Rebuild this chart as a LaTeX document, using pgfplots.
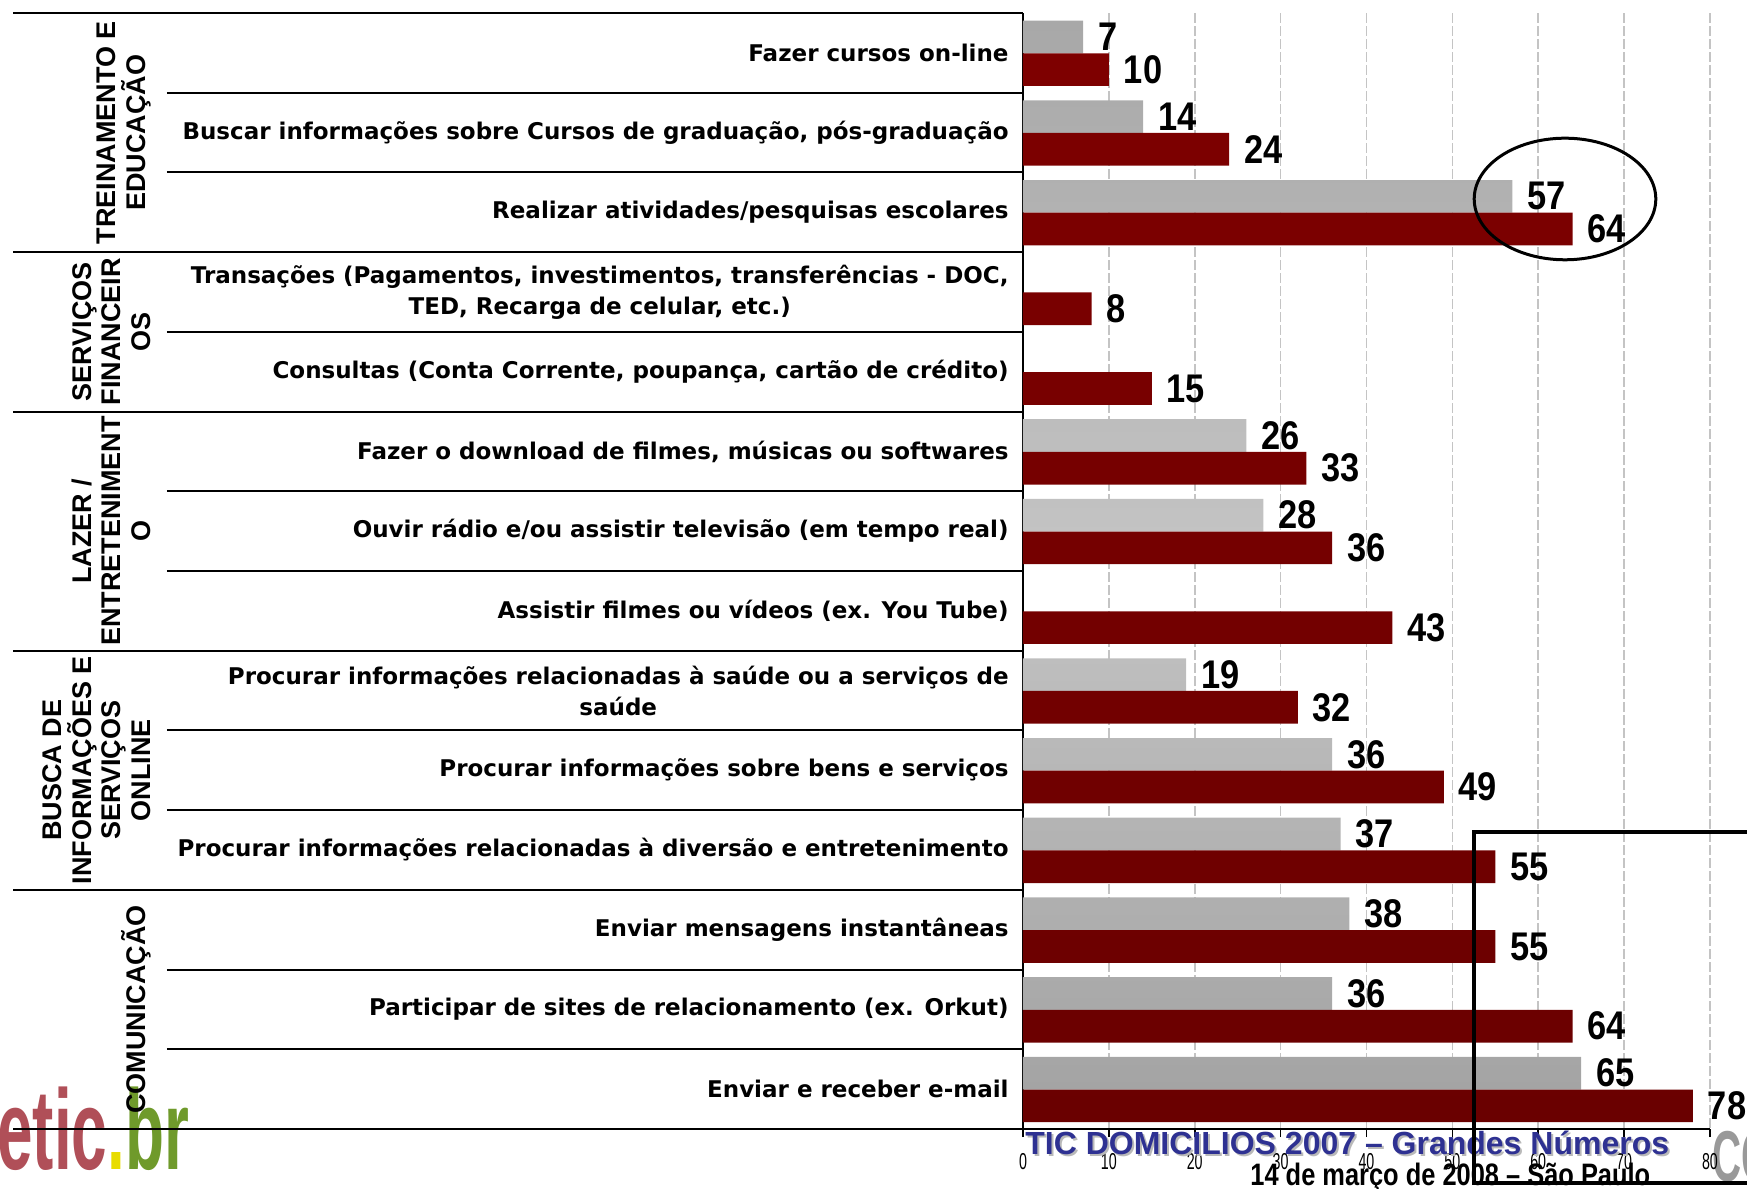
\documentclass[border=0pt]{standalone}
\usepackage{pgfplots}
\pgfplotsset{compat=1.18}
\usepackage{fontspec}
\setmainfont{Liberation Sans}
\newfontfamily\catfont{DejaVu Sans}
\newfontfamily\narrowfont[FakeStretch=0.82]{Liberation Sans}
\newfontfamily\numfont[FakeStretch=0.86]{Liberation Sans}
\newfontfamily\tickfont[FakeStretch=0.62]{Liberation Sans}
\newfontfamily\logofont[FakeStretch=0.56]{Liberation Sans}
\definecolor{redtop}{HTML}{7E0000}
\definecolor{redbot}{HTML}{6A0000}
\definecolor{graytop}{HTML}{A8A8A8}
\definecolor{graymid}{HTML}{C4C4C4}
\definecolor{graybot}{HTML}{A4A4A4}
\definecolor{gridgray}{HTML}{C4C4C4}
\definecolor{ticblue}{HTML}{2E3192}
\definecolor{eticred}{HTML}{B04F58}
\definecolor{eticgreen}{HTML}{6F9A2B}
\definecolor{eticyellow}{HTML}{E8DC00}
\begin{document}
\begin{tikzpicture}
\useasboundingbox (0,0) rectangle (873.5pt,594.5pt);
% logo
\node[anchor=base west, inner sep=0pt, font=\logofont\bfseries\fontsize{57}{57}\selectfont] at (-1.5pt,9.5pt)
  {\textcolor{eticred}{etic}\textcolor{eticyellow}{.}\textcolor{eticgreen}{br}};
\node[anchor=base west, inner sep=0pt, font=\logofont\bfseries\fontsize{36}{36}\selectfont, text=gray!80] at (856pt,3.5pt) {CGI};
\begin{axis}[
  at={(511.5pt,30pt)}, anchor=south west,
  scale only axis, width=343.5pt, height=558pt,
  xmin=0, xmax=80, ymin=0, ymax=14, y dir=reverse,
  xbar, bar width=0.41,
  clip=false,
  axis x line=bottom, axis y line=left,
  axis line style={-, line width=1pt, black},
  ytick=\empty,
  xtick={0,10,...,80},
  tick align=outside,
  major tick length=4pt,
  tick style={black, line width=0.8pt},
  xmajorgrids,
  grid style={gridgray, line width=0.8pt, dash pattern=on 5pt off 1.5pt},
  /pgf/number format/assume math mode=true,
  xticklabel style={font=\tickfont\fontsize{11.5}{11.5}\selectfont, yshift=-4.5pt},
  nodes near coords,
  every node near coord/.append style={font=\numfont\bfseries\fontsize{20}{20}\selectfont, anchor=west, xshift=4pt, text=black},
]
\addplot[draw=none, top color=graytop, bottom color=graybot, middle color=graymid, bar shift=-0.2]
  coordinates {(7,0.5) (14,1.5) (57,2.5) (26,5.5) (28,6.5) (19,8.5) (36,9.5) (37,10.5) (38,11.5) (36,12.5) (65,13.5)};
\addplot[draw=none, top color=redtop, bottom color=redbot, bar shift=0.21]
  coordinates {(10,0.5) (24,1.5) (64,2.5) (8,3.5) (15,4.5) (33,5.5) (36,6.5) (43,7.5) (32,8.5) (49,9.5) (55,10.5) (55,11.5) (64,12.5) (78,13.5)};
% separators
\pgfplotsinvokeforeach{0,3,5,8,11,14}{\draw[line width=1pt] (axis cs:-117.6,#1) -- (axis cs:0,#1);}
\pgfplotsinvokeforeach{1,2,4,6,7,9,10,12,13}{\draw[line width=1pt] (axis cs:-99.7,#1) -- (axis cs:0,#1);}
% category labels
\tikzset{cat/.style={anchor=east, align=center, inner sep=0pt, font=\catfont\bfseries\fontsize{11.5}{15.5}\selectfont}}
\node[cat] at (axis cs:-1.63,0.5) {Fazer cursos on-line};
\node[cat] at (axis cs:-1.63,1.5) {Buscar informações sobre Cursos de graduação, pós-graduação};
\node[cat] at (axis cs:-1.63,2.5) {Realizar atividades/pesquisas escolares};
\node[cat] at (axis cs:-1.63,3.5) {Transações (Pagamentos, investimentos, transferências - DOC,\\TED, Recarga de celular, etc.)};
\node[cat] at (axis cs:-1.63,4.5) {Consultas (Conta Corrente, poupança, cartão de crédito)};
\node[cat] at (axis cs:-1.63,5.5) {Fazer o download de filmes, músicas ou softwares};
\node[cat] at (axis cs:-1.63,6.5) {Ouvir rádio e/ou assistir televisão (em tempo real)};
\node[cat] at (axis cs:-1.63,7.5) {Assistir filmes ou vídeos (ex. You Tube)};
\node[cat] at (axis cs:-1.63,8.5) {Procurar informações relacionadas à saúde ou a serviços de\\saúde};
\node[cat] at (axis cs:-1.63,9.5) {Procurar informações sobre bens e serviços};
\node[cat] at (axis cs:-1.63,10.5) {Procurar informações relacionadas à diversão e entretenimento};
\node[cat] at (axis cs:-1.63,11.5) {Enviar mensagens instantâneas};
\node[cat] at (axis cs:-1.63,12.5) {Participar de sites de relacionamento (ex. Orkut)};
\node[cat] at (axis cs:-1.63,13.5) {Enviar e receber e-mail};
% group labels
\tikzset{grp/.style={rotate=90, anchor=south, align=center, inner sep=0pt, font=\bfseries\fontsize{13.5}{14.9}\selectfont}}
\node[grp] at (axis cs:-101.5,1.5) {TREINAMENTO E\\EDUCAÇÃO};
\node[grp] at (axis cs:-101.5,4) {SERVIÇOS\\FINANCEIR\\OS};
\node[grp] at (axis cs:-101.5,6.5) {LAZER /\\ENTRETENIMENT\\O};
\node[grp] at (axis cs:-101.5,9.5) {BUSCA DE\\INFORMAÇÕES E\\SERVIÇOS\\ONLINE};
\node[grp] at (axis cs:-101.5,12.5) {COMUNICAÇÃO};
\end{axis}
% ellipse
\draw[line width=1.5pt] (782.5pt,495pt) ellipse [x radius=45.4pt, y radius=30.4pt];
% footer
\node[anchor=base west, inner sep=0pt, font=\bfseries\fontsize{16}{16}\selectfont, text=gray!55] at (513.5pt,16pt) {TIC DOMICILIOS 2007 – Grandes Números};
\node[anchor=base west, inner sep=0pt, font=\bfseries\fontsize{16}{16}\selectfont, text=ticblue] at (512.5pt,17pt) {TIC DOMICILIOS 2007 – Grandes Números};
\node[anchor=base west, inner sep=0pt, font=\narrowfont\bfseries\fontsize{15.5}{15.5}\selectfont] at (625pt,1.5pt) {14 de março de 2008 – São Paulo};
% rectangle
\draw[line width=1.75pt] (880pt,178.5pt) -- (737pt,178.5pt) -- (737pt,3pt) -- (880pt,3pt);
\end{tikzpicture}
\end{document}
